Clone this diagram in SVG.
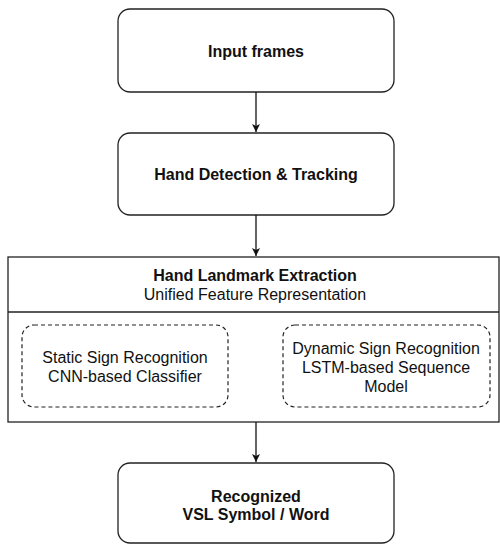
<svg xmlns="http://www.w3.org/2000/svg" width="500" height="548" viewBox="0 0 500 548">
<style>
.box{fill:#fff;stroke:#222;stroke-width:1.3}
.dash{fill:none;stroke:#222;stroke-width:1.2;stroke-dasharray:4 3}
.t{font-family:"Liberation Sans",Arial,sans-serif;font-size:16px;fill:#111;text-anchor:middle}
.b{font-weight:bold}
.edge{stroke:#111;stroke-width:1.3;fill:none}
</style>
<defs>
<marker id="ah" markerWidth="10" markerHeight="10" refX="9" refY="5" orient="auto" markerUnits="userSpaceOnUse">
<path d="M1,1 L9,5 L1,9 L3,5 Z" fill="#111"/>
</marker>
</defs>
<rect width="500" height="548" fill="#fff"/>
<g id="input">
<rect class="box" x="118" y="9" width="276" height="83" rx="12"/>
<text class="t b" x="256" y="57">Input frames</text>
</g>
<g id="detect">
<rect class="box" x="118" y="133" width="276" height="82" rx="12"/>
<text class="t b" x="256" y="180">Hand Detection &amp; Tracking</text>
</g>
<g id="landmark">
<rect class="box" x="8" y="257" width="491" height="165"/>
<line class="box" x1="8" y1="312" x2="499" y2="312"/>
<text class="t b" x="255" y="281">Hand Landmark Extraction</text>
<text class="t" x="255" y="300">Unified Feature Representation</text>
</g>
<g id="static">
<rect class="dash" x="22" y="325" width="206" height="82" rx="12"/>
<text class="t" x="125" y="363">Static Sign Recognition</text>
<text class="t" x="125" y="382">CNN-based Classifier</text>
</g>
<g id="dynamic">
<rect class="dash" x="283" y="325" width="207" height="82" rx="12"/>
<text class="t" x="386" y="354">Dynamic Sign Recognition</text>
<text class="t" x="386" y="373">LSTM-based Sequence</text>
<text class="t" x="386" y="392">Model</text>
</g>
<g id="result">
<rect class="box" x="118" y="463" width="276" height="80" rx="12"/>
<text class="t b" x="256" y="502">Recognized</text>
<text class="t b" x="256" y="520">VSL Symbol / Word</text>
</g>
<g id="connectors">
<line class="edge" x1="256" y1="92" x2="256" y2="132" marker-end="url(#ah)"/>
<line class="edge" x1="256" y1="215" x2="256" y2="256" marker-end="url(#ah)"/>
<line class="edge" x1="256" y1="422" x2="256" y2="462" marker-end="url(#ah)"/>
</g>
</svg>
